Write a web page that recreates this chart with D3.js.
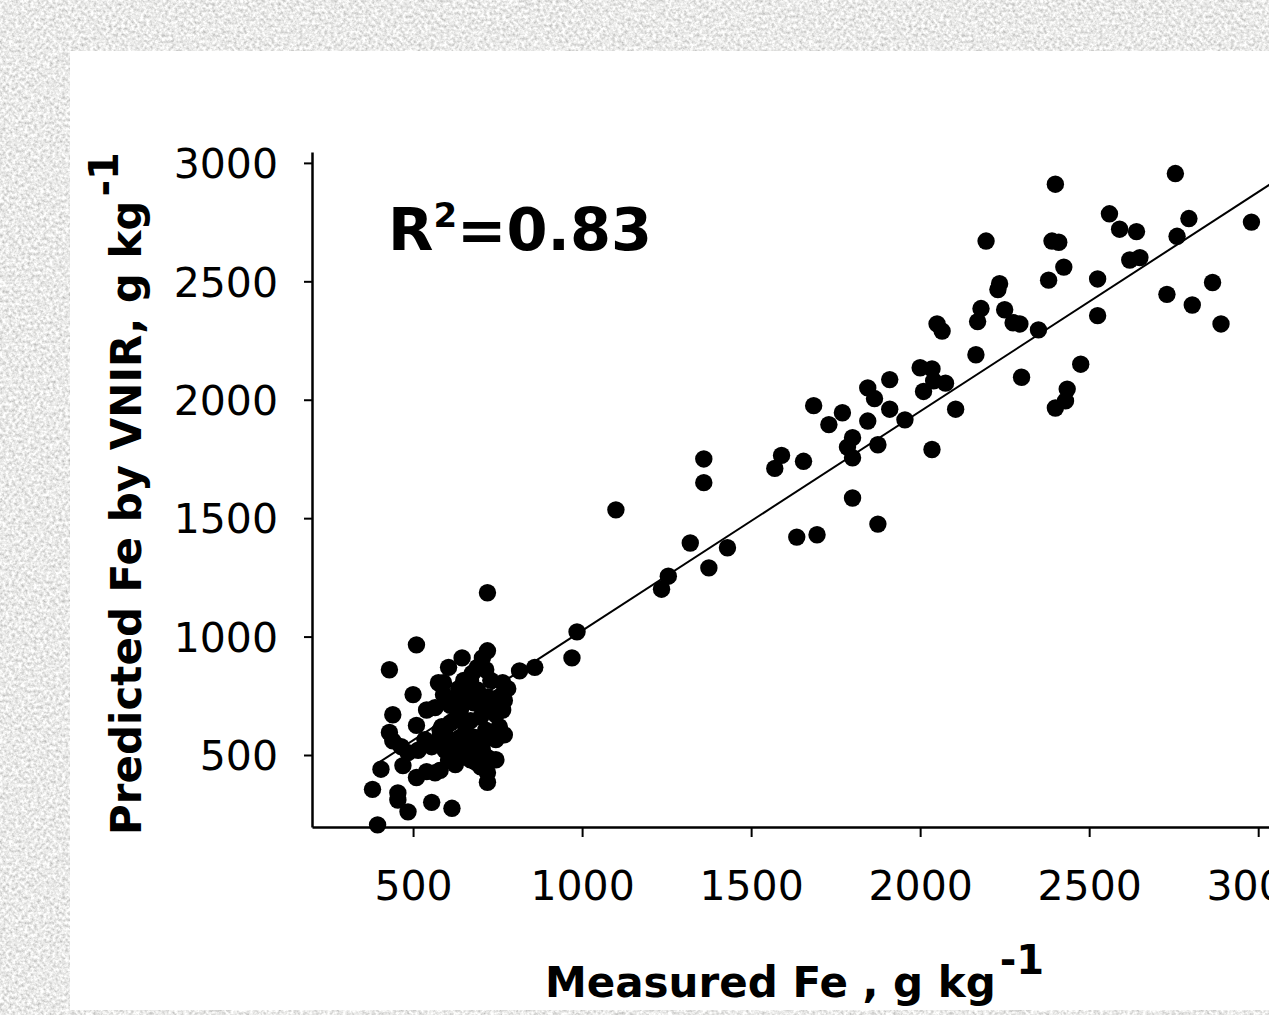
<!DOCTYPE html>
<html>
<head>
<meta charset="utf-8">
<script src="https://cdn.jsdelivr.net/npm/d3@7"></script>
<style>
  html, body { margin: 0; padding: 0; background: #d4d4d2; overflow: hidden; }
  svg { display: block; }
</style>
</head>
<body>
<svg id="chart" width="1269" height="1015"></svg>
<script>
// ---- data ----
const measured = [
  2400, 2755, 2560, 2590, 2640, 2795, 2760, 2980, 2195, 2390, 2410, 2425, 2620, 2650, 2380, 2525,
  2235, 2230, 2730, 2805, 2865, 2890, 2525, 2180, 2170, 2250, 2275, 2295, 2350, 2050, 2065, 2165,
  2475, 2300, 2435, 2430, 2400, 2000, 2035, 2040, 2075, 2010, 2105, 1955, 2035,
  1910, 1845, 1865, 1685, 1770, 1845, 1910, 1730, 1800, 1785, 1800, 1875, 1590, 1570, 1655,
  1360, 1360, 1100, 1800, 1875, 1635, 1695, 1320, 1430, 1375, 1255, 1235, 985, 970, 860, 815,
  720, 510, 430, 720, 705, 690, 645, 605, 575, 590, 565, 540, 500, 440, 510, 585, 610, 430, 440,
  465, 485, 515, 555, 575, 470, 405, 510, 540, 565, 605, 595, 380, 455, 455, 555, 485, 615, 395,
  590, 650, 675, 730, 765, 780, 630, 660, 640, 680, 720, 755, 765, 755, 750, 620, 670, 700, 600,
  640, 680, 705, 720, 705, 640, 670, 700, 720, 720, 580, 625, 655, 690, 745,
  670, 730, 745, 685, 625, 655, 715, 770, 700, 635, 610, 685, 745, 670, 715, 770, 580, 535
];
const predicted = [
  2910, 2955, 2785, 2720, 2710, 2765, 2690, 2750, 2670, 2670, 2665, 2560, 2590, 2600, 2505, 2510,
  2490, 2465, 2445, 2400, 2495, 2320, 2355, 2385, 2330, 2380, 2325, 2320, 2295, 2320, 2290, 2190,
  2150, 2095, 2045, 1995, 1965, 2135, 2130, 2080, 2070, 2035, 1960, 1915, 1790,
  2085, 2050, 2005, 1975, 1945, 1910, 1960, 1895, 1840, 1800, 1755, 1810, 1765, 1710, 1740,
  1750, 1650, 1535, 1585, 1475, 1420, 1430, 1395, 1375, 1290, 1255, 1200, 1020, 910, 870, 855,
  1185, 965, 860, 940, 910, 870, 910, 870, 805, 755, 700, 690, 755, 670, 625, 620, 635, 595, 560,
  535, 510, 520, 535, 565, 455, 440, 405, 430, 425, 480, 520, 355, 340, 310, 300, 260, 275, 205,
  805, 815, 845, 815, 805, 780, 745, 760, 690, 720, 745, 745, 690, 620, 595, 645, 645, 660, 575,
  575, 575, 550, 490, 520, 490, 480, 450, 425, 385, 435, 460, 535, 775, 670,
  730, 690, 565, 520, 540, 625, 605, 730, 710, 780, 710, 470, 480, 815, 860, 585, 605, 565
];
const xTicks = [500, 1000, 1500, 2000, 2500, 3000];
const yTicks = [500, 1000, 1500, 2000, 2500, 3000];
const fitSlope = 0.926;
const fitIntercept = 99;
const fitRange = [395, 3100];
const r2Text = "0.83";

// ---- drawing ----
const W = 1269, H = 1015;
const svg = d3.select("#chart");
const defs = svg.append("defs");

const filt = defs.append("filter").attr("id", "granite")
  .attr("filterUnits", "userSpaceOnUse")
  .attr("x", 0).attr("y", 0).attr("width", W).attr("height", H);
filt.append("feTurbulence").attr("type", "fractalNoise")
  .attr("baseFrequency", 0.32).attr("numOctaves", 3).attr("seed", 7);
filt.append("feColorMatrix").attr("type", "matrix")
  .attr("values", "0.85 0 0 0 0.40  0.85 0 0 0 0.40  0.85 0 0 0 0.39  0 0 0 0 1");

svg.append("rect").attr("x", 0).attr("y", 0).attr("width", W).attr("height", H)
  .attr("fill", "#d4d4d2").attr("filter", "url(#granite)");

// white panel
svg.append("rect").attr("x", 70).attr("y", 51).attr("width", W - 70 + 20).attr("height", 959)
  .attr("fill", "#ffffff");

const x = d3.scaleLinear().domain([201, 3100]).range([312, 1292]);
const y = d3.scaleLinear().domain([196, 3046]).range([827, 152]);

const font = "'DejaVu Sans', Verdana, sans-serif";
const fmt = d3.format("d");

// regression line
const line = d3.line().x(d => x(d)).y(d => y(fitIntercept + fitSlope * d));
svg.append("path").datum(fitRange).attr("d", line)
  .attr("stroke", "#000").attr("stroke-width", 2).attr("fill", "none");

// points
svg.append("g").selectAll("circle")
  .data(measured.map((m, i) => [m, predicted[i]]))
  .join("circle")
  .attr("cx", d => x(d[0])).attr("cy", d => y(d[1])).attr("r", 8.7)
  .attr("fill", "#000");

// axes
const xAxis = svg.append("g").attr("transform", "translate(0,827)")
  .call(d3.axisBottom(x).tickValues(xTicks).tickFormat(fmt).tickSize(10).tickSizeOuter(0).tickPadding(14));
const yAxis = svg.append("g").attr("transform", "translate(312,0)")
  .call(d3.axisLeft(y).tickValues(yTicks).tickFormat(fmt).tickSize(8).tickSizeOuter(0).tickPadding(26));

[xAxis, yAxis].forEach(g => {
  g.select(".domain").attr("stroke", "#000").attr("stroke-width", 2.5);
  g.selectAll(".tick line").attr("stroke", "#000").attr("stroke-width", 2);
  g.selectAll(".tick text").attr("fill", "#000")
    .style("font-family", font).style("font-size", "41px");
});
xAxis.selectAll(".tick text").attr("dy", null).attr("y", 73);
yAxis.selectAll(".tick text").attr("dy", "0.36em");

// R^2 annotation
const r2 = svg.append("text").attr("x", 388).attr("y", 250)
  .style("font-family", font).style("font-weight", "bold").style("font-size", "59px").attr("fill", "#000");
r2.append("tspan").text("R");
r2.append("tspan").text("2").style("font-size", "34px").attr("dy", -23);
r2.append("tspan").text("=" + r2Text).attr("dy", 23);

// x axis title
const xt = svg.append("text").attr("x", 545).attr("y", 997)
  .style("font-family", font).style("font-weight", "bold").style("font-size", "42px").attr("fill", "#000");
xt.append("tspan").text("Measured Fe , g kg");
xt.append("tspan").text("-1").attr("dx", 4).attr("dy", -23).style("font-size", "40px");

// y axis title
const yt = svg.append("text").attr("transform", "translate(141,835) rotate(-90)")
  .style("font-family", font).style("font-weight", "bold").style("font-size", "42px").attr("fill", "#000");
yt.append("tspan").text("Predicted Fe by VNIR, g kg");
yt.append("tspan").text("-1").attr("dx", 4).attr("dy", -23).style("font-size", "40px");
</script>
</body>
</html>
